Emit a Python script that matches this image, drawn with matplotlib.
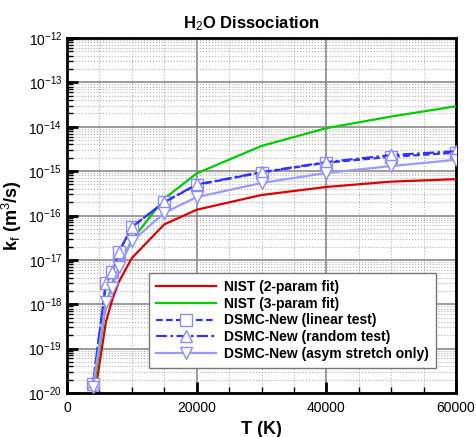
import matplotlib
matplotlib.use('Agg')
import matplotlib.pyplot as plt
from matplotlib.ticker import FixedLocator, MultipleLocator, NullFormatter

plt.rcParams['font.family'] = ['Liberation Sans', 'DejaVu Sans']
plt.rcParams['mathtext.fontset'] = 'custom'
plt.rcParams['mathtext.rm'] = 'Liberation Sans'
plt.rcParams['mathtext.it'] = 'Liberation Sans'
plt.rcParams['mathtext.bf'] = 'Liberation Sans:bold'

# temperature points (K)
T = [4000, 6000, 7000, 8000, 10000, 15000, 20000, 30000, 40000, 50000, 60000]

# rate coefficients (m^3/s)
nist_2p = [5e-21, 4e-19, 1.3e-18, 3.2e-18, 1.1e-17, 6.3e-17, 1.35e-16, 2.9e-16, 4.4e-16, 5.8e-16, 6.6e-16]
nist_3p = [1.0e-20, 1.0e-18, 2.8e-18, 7e-18, 2.8e-17, 2.4e-16, 8.9e-16, 3.7e-15, 9.3e-15, 1.7e-14, 2.9e-14]
dsmc_linear = [1.6e-20, 3.0e-18, 5.2e-18, 1.5e-17, 5.5e-17, 2.0e-16, 4.9e-16, 9.3e-16, 1.55e-15, 2.1e-15, 2.6e-15]
dsmc_random = [1.6e-20, 3.0e-18, 5.2e-18, 1.5e-17, 5.5e-17, 2.0e-16, 5.0e-16, 9.5e-16, 1.6e-15, 2.3e-15, 2.8e-15]
dsmc_asym = [1.4e-20, 1.1e-18, 2.3e-18, 7e-18, 2.6e-17, 1.15e-16, 2.6e-16, 5.4e-16, 9.1e-16, 1.3e-15, 1.8e-15]

# decades shown on the y axis
decades = list(range(-20, -11))

fig = plt.figure(figsize=(4.76, 4.37), dpi=100)
ax = fig.add_axes([0.1408, 0.1007, 0.958 - 0.1408, 0.913 - 0.1007])

mk_edge = '#8c8cff'
ax.plot(T, nist_2p, color='#dd0000', lw=1.6, label='NIST (2-param fit)', zorder=3)
ax.plot(T, nist_3p, color='#00cc00', lw=1.6, label='NIST (3-param fit)', zorder=3)
ax.plot(T, dsmc_linear, color='#3333ff', lw=1.6, ls=(0, (3, 1.5)), marker='s', ms=8,
        mfc='white', mec=mk_edge, mew=1.0, label='DSMC-New (linear test)', zorder=4)
ax.plot(T, dsmc_random, color='#3333ff', lw=1.6, ls=(0, (5, 1.5, 1.2, 1.5)), marker='^', ms=9,
        mfc='white', mec=mk_edge, mew=1.0, label='DSMC-New (random test)', zorder=4)
ax.plot(T, dsmc_asym, color='#9999ff', lw=1.6, marker='v', ms=9,
        mfc='white', mec=mk_edge, mew=1.0, label='DSMC-New (asym stretch only)', zorder=4)

ax.set_yscale('log')
ax.set_xlim(0, 60000)
ax.set_ylim(1e-20, 1e-12)

ax.xaxis.set_major_locator(MultipleLocator(20000))
ax.xaxis.set_minor_locator(MultipleLocator(5000))
ax.yaxis.set_major_locator(FixedLocator([10.0 ** d for d in decades]))
ax.yaxis.set_minor_locator(FixedLocator([m * 10.0 ** d for d in decades[:-1] for m in range(2, 10)]))
ax.yaxis.set_minor_formatter(NullFormatter())

ax.grid(True, which='major', color='#8a8a8a', lw=1.2, ls='-', zorder=0)
ax.grid(True, which='minor', color='#b0b0b0', lw=0.8, ls=':', zorder=0)
ax.set_axisbelow(True)

ax.tick_params(which='major', direction='in', length=8, width=2, labelsize=10,
               top=False, right=False)
ax.tick_params(axis='x', which='major', pad=6)
ax.tick_params(which='minor', direction='in', length=4, width=1, top=False, right=False)
for s in ax.spines.values():
    s.set_linewidth(2)

ax.set_title('H$_2$O Dissociation', fontsize=12, fontweight='bold', pad=7, x=0.474)
ax.set_xlabel('T (K)', fontsize=13, fontweight='bold', labelpad=4)
ax.set_ylabel(r'k$_f$ (m$^3$/s)', fontsize=13, fontweight='bold', labelpad=3)

leg = ax.legend(loc='lower right', bbox_to_anchor=(0.967, 0.051), fancybox=False,
                framealpha=1, edgecolor='#777777', prop={'weight': 'bold', 'size': 10},
                handlelength=4.3, borderpad=0.5, labelspacing=0.2, handletextpad=0.6)
leg.get_frame().set_linewidth(1.0)

fig.savefig('out.png', dpi=100)
